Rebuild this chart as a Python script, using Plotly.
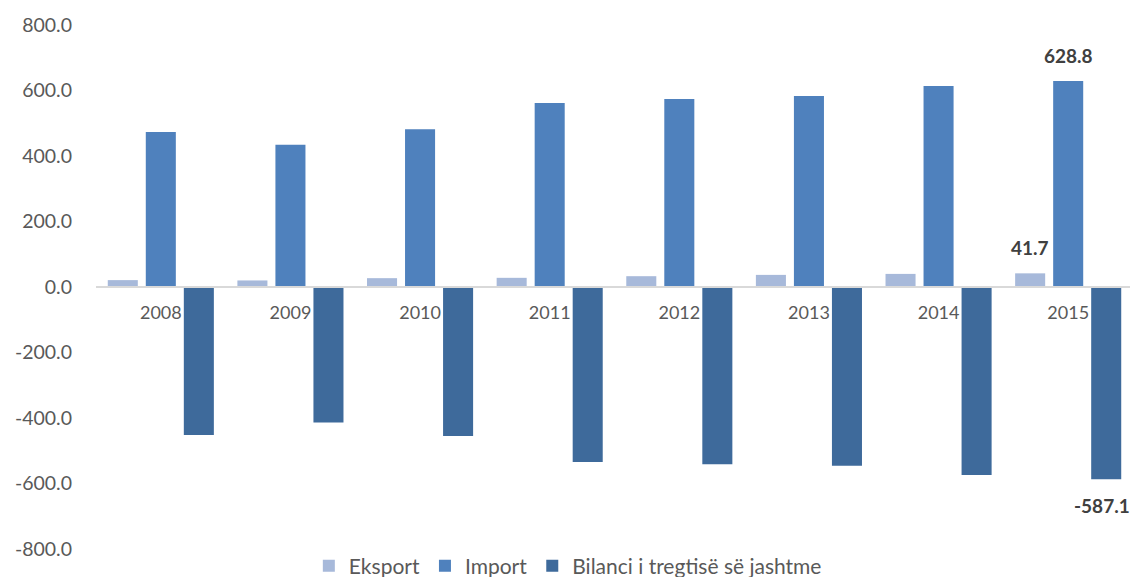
import plotly.graph_objects as go

years = ["2008", "2009", "2010", "2011", "2012", "2013", "2014", "2015"]
eksport = [21.0, 20.0, 27.0, 28.0, 33.0, 37.0, 40.0, 41.7]
importv = [473.0, 434.0, 482.0, 562.0, 574.0, 583.0, 614.0, 628.8]
bilanci = [-452.0, -414.0, -455.0, -534.0, -541.0, -546.0, -574.0, -587.1]
names = ["Eksport", "Import", "Bilanci i tregtisë së jashtme"]
colors = ["#A7B9DA", "#4F81BD", "#3E6A9B"]
yticks = [-800, -600, -400, -200, 0, 200, 400, 600, 800]

# page body has an 8px margin, so the figure is 8px smaller than the window
W, H = 1130, 569
top, bottom = 17, 541
paper_h = H - top
dom_low = (H - bottom) / paper_h

fig = go.Figure()
series = [eksport, importv, bilanci]
for vals, name, col in zip(series, names, colors):
    fig.add_trace(go.Bar(
        x=years, y=vals, name=name, marker=dict(color=col, line=dict(width=0)),
    ))

# value labels for the last year (category index of last year)
last_idx = len(years) - 1
offsets = [-38, 0, 34]
for vals, off in zip(series, offsets):
    v = vals[-1]
    fig.add_annotation(
        x=last_idx, y=v, xref="x", yref="y", xshift=off,
        yshift=26 if v >= 0 else -26, yanchor="middle", showarrow=False,
        text=f"{v:.1f}", font=dict(size=19, color="#404040", family="Lato", weight="bold"),
    )

fig.update_layout(
    width=W, height=H,
    paper_bgcolor="white", plot_bgcolor="white",
    margin=dict(l=88, r=5, t=top, b=0, autoexpand=False),
    barmode="group", bargap=0.12, bargroupgap=0.21,
    font=dict(family="Lato", size=18, color="#595959"),
    xaxis=dict(
        type="category", range=[-0.5, len(years) - 0.5], autorange=False,
        anchor="free", position=(dom_low + 1) / 2, showline=True, linecolor="#D9D9D9", linewidth=1.5,
        ticks="outside", ticklen=10, tickcolor="rgba(0,0,0,0)",
        tickfont=dict(size=18, color="#595959"), showgrid=False,
    ),
    yaxis=dict(
        domain=[dom_low, 1],
        range=[-800, 800], tickvals=yticks, ticktext=[f"{t:.1f}" for t in yticks],
        showgrid=False, zeroline=False, showline=False,
        ticklabelstandoff=23, tickfont=dict(size=19.5, color="#595959"),
    ),
    legend=dict(orientation="h", x=0.455, xanchor="center", y=(H - 558) / paper_h, yanchor="middle",
                font=dict(size=21, color="#595959"), itemwidth=30, traceorder="normal"),
    showlegend=True,
)

fig.write_html("out.html")
